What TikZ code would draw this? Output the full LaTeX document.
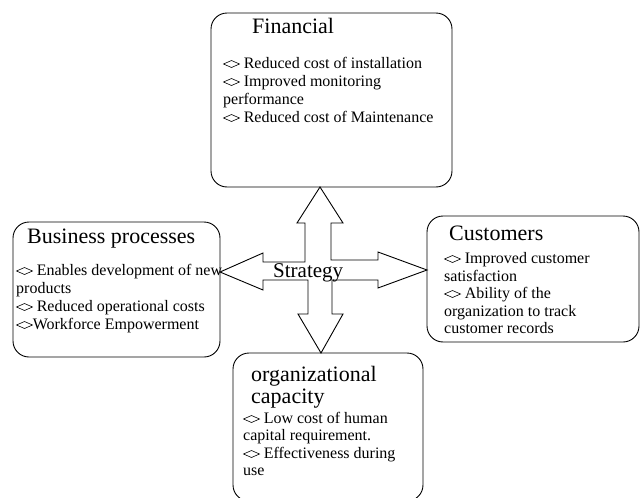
\documentclass[tikz,border=0pt]{standalone}
\usepackage{fontspec}
\setmainfont{Liberation Serif}
\newcommand\dmnd{\tikz[baseline=0pt,x=1pt,y=1pt]\draw[line width=0.6pt] (0,4)--(8,7.5)--(16,4)--(8,0.5)--cycle;}
\begin{document}
\begin{tikzpicture}[x=1pt,y=-1pt,
  boxst/.style={draw,line width=0.9pt,rounded corners=16pt,inner sep=0pt},
  ttl/.style={anchor=base west,inner sep=0pt,font=\fontsize{22}{24}\selectfont},
  bod/.style={anchor=base west,inner sep=0pt,font=\fontsize{16}{18}\selectfont},
  arr/.style={draw,line width=0.9pt,line join=miter}]
\useasboundingbox (0,0) rectangle (641,498);
\clip (0,0) rectangle (641,498);
% boxes
\node[boxst,minimum width=241pt,minimum height=174pt] (fin) at (331.5,100) {};
\node[boxst,minimum width=207pt,minimum height=135pt] (bus) at (116.5,289.5) {};
\node[boxst,minimum width=212pt,minimum height=126pt] (cus) at (533,279) {};
\node[boxst,minimum width=190pt,minimum height=148pt] (org) at (328,427) {};
% four-way arrow
\coordinate (tu) at (320,187);
\coordinate (tr) at (427,270);
\coordinate (td) at (321,353);
\coordinate (tl) at (220,272);
\draw[arr] (tu) -- (343,223) -- (331,223) -- (331,260) -- (378,260) -- (378,252) -- (tr)
  -- (378,288) -- (378,280) -- (332,280) -- (332,314) -- (343,314) -- (td)
  -- (298,314) -- (308,314) -- (308,280) -- (263,280) -- (263,290) -- (tl)
  -- (263,253) -- (263,262) -- (305,262) -- (305,223) -- (297,223) -- cycle;
\node[anchor=base west,inner sep=0pt,font=\fontsize{21}{24}\selectfont] (str) at (273,277) {Strategy};
% Financial
\node[ttl] (fint) at (252,33) {Financial};
\node[bod] (f1) at (223,68) {\dmnd\ Reduced cost of installation};
\node[bod] (f2) at (223,86) {\dmnd\ Improved monitoring};
\node[bod] (f3) at (223,104) {performance};
\node[bod] (f4) at (223,122) {\dmnd\ Reduced cost of Maintenance};
% Business processes
\node[ttl] (bust) at (27,243) {Business processes};
\node[bod] (b1) at (16,275) {\dmnd\ Enables development of new};
\node[bod] (b2) at (16,293) {products};
\node[bod] (b3) at (16,311) {\dmnd\ Reduced operational costs};
\node[bod] (b4) at (16,329) {\dmnd{}Workforce Empowerment};
% Customers
\node[ttl] (cust) at (449,240) {Customers};
\node[bod] (c1) at (444,263) {\dmnd\ Improved customer};
\node[bod] (c2) at (444,281) {satisfaction};
\node[bod] (c3) at (444,298) {\dmnd\ Ability of the};
\node[bod] (c4) at (444,316) {organization to track};
\node[bod] (c5) at (444,333) {customer records};
% organizational capacity
\node[ttl] (orgt1) at (251,381) {organizational};
\node[ttl] (orgt2) at (251,403) {capacity};
\node[bod] (o1) at (243,423) {\dmnd\ Low cost of human};
\node[bod] (o2) at (243,440) {capital requirement.};
\node[bod] (o3) at (243,458) {\dmnd\ Effectiveness during};
\node[bod] (o4) at (243,475) {use};
\end{tikzpicture}
\end{document}
